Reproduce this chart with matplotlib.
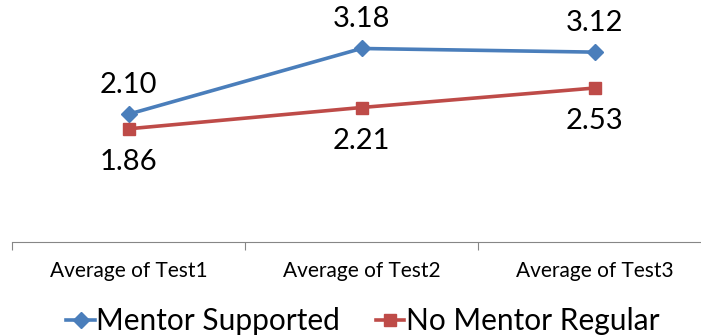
import matplotlib.pyplot as plt

categories = ["Average of Test1", "Average of Test2", "Average of Test3"]
mentor = [2.10, 3.18, 3.12]
no_mentor = [1.86, 2.21, 2.53]

plt.rcParams["font.family"] = ["Lato", "DejaVu Sans"]

fig = plt.figure(figsize=(7.01, 3.35), dpi=100)
# axis runs off the right edge, like the original sheet export
ax = fig.add_axes([12 / 701, (335 - 242) / 335, 699 / 701, 213 / 335])

x = range(len(categories))
ax.plot(x, mentor, color="#4A7EBB", lw=2.6, marker="D", ms=8,
        label="Mentor Supported")
ax.plot(x, no_mentor, color="#BE4B48", lw=2.6, marker="s", ms=9,
        label="No Mentor Regular")

for i, v in enumerate(mentor):
    ax.annotate(f"{v:.2f}", (i, v), xytext=(0, 21), textcoords="offset points",
                ha="center", va="center", fontsize=21, annotation_clip=False)
for i, v in enumerate(no_mentor):
    ax.annotate(f"{v:.2f}", (i, v), xytext=(0, -24), textcoords="offset points",
                ha="center", va="center", fontsize=21, annotation_clip=False)

ax.set_xlim(-0.5, 2.5)
ax.set_ylim(0, 3.5)
ax.set_xticks([-0.5, 0.5, 1.5, 2.5])
ax.set_xticklabels([])
ax.set_xticks(list(x), categories, minor=True)
ax.tick_params(axis="x", which="major", length=6, color="#868686", direction="out")
ax.tick_params(axis="x", which="minor", length=0, labelsize=15, pad=14)
ax.set_yticks([])
for s in ["top", "left", "right"]:
    ax.spines[s].set_visible(False)
ax.spines["bottom"].set_color("#868686")

fig.legend(loc="center", bbox_to_anchor=(363 / 701, 14 / 335), ncol=2, frameon=False,
           fontsize=21.5, handlelength=0.95, handletextpad=0.05, columnspacing=1.2)

fig.savefig("out.png", dpi=100)
